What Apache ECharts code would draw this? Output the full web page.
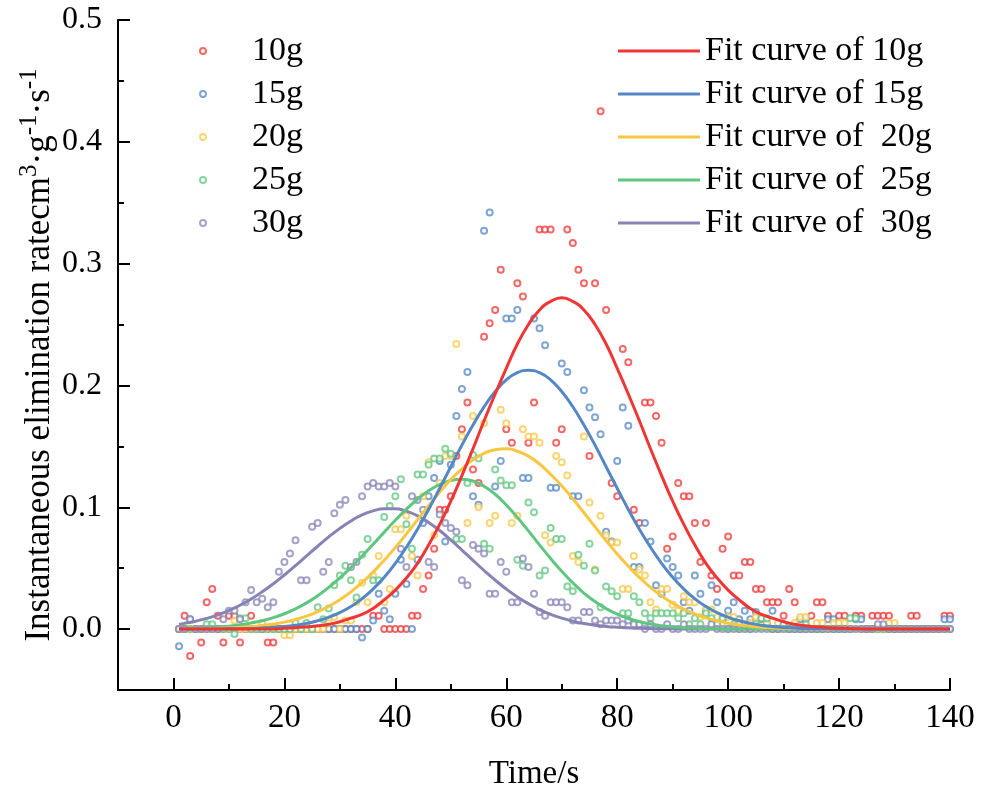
<!DOCTYPE html>
<html><head><meta charset="utf-8">
<script src="https://cdn.jsdelivr.net/npm/echarts@6/dist/echarts.min.js"></script>
<style>html,body{margin:0;padding:0;background:#fff}#c{width:993px;height:794px}</style>
</head><body><div id="c"></div>
<script>
// ---------------- data ----------------
const seconds = Array.from({length: 140}, (_, i) => i + 1);
const fitSeconds = [1].concat(Array.from({length: 70}, (_, i) => 2 * (i + 1)));

const scatterNames = ['10g', '15g', '20g', '25g', '30g'];
const fitNames = ['Fit curve of 10g', 'Fit curve of 15g', 'Fit curve of  20g', 'Fit curve of  25g', 'Fit curve of  30g'];

const rate10g = [
  0, 0.011, -0.022, 0, -0.011, 0.022, 0.033, 0.011, -0.011, 0.011,
  0.011, -0.011, 0, 0.011, 0, 0, -0.011, -0.011, 0, 0,
  0, 0, 0, 0, 0, 0, 0, 0, 0, 0,
  0, 0, 0, 0, 0, 0.011, 0.011, 0, 0, 0,
  0, 0, 0.011, 0.011, 0.033, 0.044, 0.066, 0.098, 0.098, 0.109,
  0.142, 0.164, 0.186, 0.131, 0.120, 0.240, 0.251, 0.262, 0.295, 0.164,
  0.153, 0.284, 0.273, 0.153, 0.186, 0.328, 0.328, 0.328, 0.153, 0.164,
  0.328, 0.317, 0.295, 0.284, 0.142, 0.284, 0.425, 0.262, 0.120, 0.109,
  0.230, 0.219, 0.098, 0.087, 0.186, 0.186, 0.175, 0.153, 0.066, 0.076,
  0.120, 0.109, 0.109, 0.087, 0.055, 0.087, 0.044, 0.033, 0.066, 0.076,
  0.044, 0.044, 0.055, 0.055, 0.033, 0.033, 0.022, 0.022, 0.022, 0.011,
  0.033, 0.022, 0, 0, 0.011, 0.022, 0.022, 0.011, 0, 0.011,
  0.011, 0, 0.011, 0.011, 0, 0.011, 0.011, 0.011, 0.011, 0,
  0, 0, 0.011, 0.011, 0, 0, 0, 0, 0.011, 0.011
];
const rate15g = [
  -0.014, 0, 0.008, 0, 0, 0, 0, 0, 0, 0,
  0, 0, 0, 0, 0, 0, 0, 0, 0, 0,
  0, 0, 0, 0, 0, 0, 0, 0, 0, 0,
  0, 0, 0, -0.007, 0, 0.007, 0.029, 0.015, 0.008, 0.029,
  0.057, 0.037, 0, 0.057, 0.087, 0.109, 0.124, 0.138, 0.072, 0.135,
  0.175, 0.197, 0.211, 0.109, 0.102, 0.327, 0.342, 0.117, 0.138, 0.255,
  0.255, 0.262, 0.124, 0.124, 0.255, 0.247, 0.233, 0.116, 0.116, 0.218,
  0.211, 0.109, 0.109, 0.196, 0.182, 0.174, 0.160, 0.080, 0.072, 0.138,
  0.182, 0.167, 0.051, 0.051, 0.087, 0.072, 0.036, 0.029, 0.058, 0.051,
  0.044, 0.022, 0.015, 0.044, 0.029, 0.015, 0.036, 0.022, 0.008, 0.015,
  0.022, 0.008, 0.015, 0.008, 0.014, 0.008, 0.004, 0.015, 0, 0.004,
  0, 0, 0.008, 0.008, 0, 0, 0, 0.008, 0.008, 0,
  0, 0, 0.008, 0.008, 0, 0, 0, 0, 0, 0,
  0, 0, 0, 0, 0, 0, 0, 0, 0.008, 0.008
];
const rate20g = [
  0, 0, 0, 0, 0, 0, 0, 0, 0, 0,
  0.007, 0, 0, 0, 0, 0.005, 0, 0, 0, -0.005,
  -0.005, 0, 0, 0, 0, 0, 0, 0.005, 0.010, 0,
  0.007, 0.007, 0.022, 0.038, 0.022, 0.044, 0.060, 0.022, 0.033, 0.082,
  0.082, 0.093, 0.060, 0.044, 0.109, 0.137, 0.077, 0.120, 0.142, 0.142,
  0.234, 0.158, 0.087, 0.175, 0.100, 0.169, 0.087, 0.093, 0.180, 0.169,
  0.087, 0.093, 0.164, 0.158, 0.158, 0.153, 0.077, 0.071, 0.142, 0.137,
  0.126, 0.060, 0.055, 0.158, 0.104, 0.049, 0.093, 0.077, 0.071, 0.071,
  0.033, 0.033, 0.060, 0.049, 0.044, 0.022, 0.016, 0.033, 0.033, 0.020,
  0.015, 0.027, 0.022, 0.022, 0.010, 0.016, 0.016, 0.010, 0.005, 0.010,
  0.010, 0.005, 0, 0.005, 0.010, 0.010, 0.005, 0, 0.005, 0,
  0, 0.005, 0.010, 0.010, 0, 0.005, 0.005, 0, 0.005, 0.005,
  0.005, 0, 0, 0, 0, 0, 0, 0, 0.005, 0.005,
  0, 0, 0, 0, 0, 0, 0, 0, 0, 0
];
const rate25g = [
  0, 0, 0, 0, 0, 0.004, 0.004, 0, 0, 0,
  -0.004, 0.009, 0.009, 0, 0, 0, 0, 0, 0, 0,
  0, 0.005, 0, 0.005, 0, 0.018, 0.008, 0.017, 0.036, 0.044,
  0.052, 0.040, 0.026, 0.061, 0.074, 0.040, 0.040, 0.092, 0.101, 0.109,
  0.123, 0.086, 0.066, 0.127, 0.127, 0.135, 0.140, 0.140, 0.148, 0.144,
  0.074, 0.074, 0.120, 0.143, 0.140, 0.070, 0.066, 0.131, 0.122, 0.118,
  0.118, 0.057, 0.052, 0.104, 0.096, 0.044, 0.048, 0.083, 0.074, 0.074,
  0.035, 0.031, 0.061, 0.052, 0.070, 0.048, 0.018, 0.035, 0.031, 0.027,
  0.013, 0.013, 0.027, 0.022, 0.013, 0.009, 0.013, 0.013, 0.013, 0.013,
  0.009, 0.013, 0.004, 0.009, 0.004, 0.013, 0.009, 0.004, 0.009, 0,
  0.004, 0, 0.004, 0, 0.004, 0.009, 0.009, 0, 0, 0.004,
  0, 0, 0, 0.004, 0, 0, 0, 0, 0, 0,
  0, 0.009, 0.009, 0, 0, 0, 0, 0, 0, 0,
  0, 0, 0, 0, 0, 0, 0, 0, 0, 0
];
const rate30g = [
  0, 0, 0.008, 0, 0, 0, 0, 0, 0.008, 0.015,
  0.015, 0.008, 0.022, 0.032, 0.022, 0.025, 0.018, 0.022, 0.047, 0.055,
  0.062, 0.073, 0.040, 0.040, 0.084, 0.087, 0.047, 0.055, 0.095, 0.102,
  0.106, 0.051, 0.055, 0.109, 0.117, 0.120, 0.117, 0.117, 0.120, 0.117,
  0.066, 0.051, 0.109, 0.106, 0.098, 0.055, 0.051, 0.094, 0.087, 0.083,
  0.080, 0.040, 0.036, 0.069, 0.066, 0.062, 0.029, 0.029, 0.055, 0.047,
  0.022, 0.022, 0.058, 0.051, 0.029, 0.014, 0.011, 0.022, 0.022, 0.022,
  0.018, 0.007, 0.007, 0.014, 0.014, 0.007, 0.004, 0.007, 0.007, 0.007,
  0.004, 0.007, 0.004, 0.004, 0, 0.004, 0, 0, 0.004, 0,
  0, 0.004, 0, 0, 0, 0, 0.004, 0, 0, 0,
  0, 0, 0, 0, 0, 0, 0, 0, 0, 0,
  0, 0, 0, 0, 0, 0, 0, 0, 0, 0,
  0, 0, 0, 0, 0, 0, 0.004, 0.004, 0, 0,
  0, 0, 0, 0, 0, 0, 0, 0, 0, 0
];

// fitted curves, read at t = 1, 2, 4, ..., 140
const fit10g = [
  0, 0, 0, 0, 0, 0, 0, 0, 0, 0,
  0.0007, 0.0011, 0.0018, 0.0027, 0.004, 0.006, 0.009, 0.012, 0.017, 0.024,
  0.032, 0.042, 0.054, 0.069, 0.086, 0.105, 0.126, 0.148, 0.171, 0.193,
  0.214, 0.234, 0.250, 0.262, 0.269, 0.272, 0.269, 0.262, 0.250, 0.234,
  0.214, 0.193, 0.171, 0.148, 0.126, 0.105, 0.086, 0.069, 0.054, 0.042,
  0.032, 0.024, 0.017, 0.012, 0.009, 0.006, 0.004, 0.0027, 0.0018, 0.0011,
  0.0007, 0.0004, 0.0002, 0.0001, 0, 0, 0, 0, 0, 0, 0
];
const fit15g = [
  0, 0, 0, 0, 0.0001, 0.0002, 0.0003, 0.0005, 0.0009, 0.0014,
  0.0021, 0.0032, 0.0047, 0.0068, 0.0098, 0.0136, 0.0185, 0.0249, 0.0329, 0.0425,
  0.054, 0.0672, 0.082, 0.0982, 0.1156, 0.1333, 0.151, 0.1675, 0.1825, 0.195,
  0.2046, 0.2105, 0.2125, 0.2105, 0.2046, 0.195, 0.1825, 0.1675, 0.151, 0.1333,
  0.1156, 0.0982, 0.082, 0.0672, 0.054, 0.0425, 0.0329, 0.0249, 0.0185, 0.0136,
  0.0098, 0.0068, 0.0047, 0.0032, 0.0021, 0.0014, 0.0009, 0.0005, 0.0003, 0.0002,
  0.0001, 0, 0, 0, 0, 0, 0, 0, 0, 0, 0
];
const fit20g = [
  0.0001, 0.0002, 0.0003, 0.0004, 0.0006, 0.0009, 0.0013, 0.002, 0.0029, 0.0041,
  0.0057, 0.0079, 0.0107, 0.0143, 0.0187, 0.0241, 0.0306, 0.0382, 0.0468, 0.0565,
  0.067, 0.0782, 0.0897, 0.1013, 0.1124, 0.1227, 0.1316, 0.139, 0.1443, 0.1473,
  0.148, 0.146, 0.142, 0.1355, 0.127, 0.1177, 0.107, 0.0955, 0.084, 0.0725,
  0.0617, 0.0516, 0.0424, 0.0342, 0.0273, 0.0213, 0.0164, 0.0124, 0.0092, 0.0068,
  0.0049, 0.0034, 0.0024, 0.0016, 0.0011, 0.0007, 0.0005, 0.0003, 0.0002, 0.0001,
  0, 0, 0, 0, 0, 0, 0, 0, 0, 0, 0
];
const fit25g = [
  0.0003, 0.0005, 0.0007, 0.0011, 0.0017, 0.0024, 0.0035, 0.005, 0.0069, 0.0094,
  0.0126, 0.0166, 0.0215, 0.0274, 0.0342, 0.042, 0.0506, 0.0599, 0.0696, 0.0796,
  0.0893, 0.0985, 0.1066, 0.1135, 0.1187, 0.122, 0.123, 0.1216, 0.1173, 0.1107,
  0.1019, 0.0917, 0.0806, 0.0691, 0.0579, 0.0474, 0.0379, 0.0296, 0.0226, 0.0168,
  0.0123, 0.0087, 0.0061, 0.0041, 0.0027, 0.0018, 0.0011, 0.0007, 0.0004, 0.0002,
  0.0001, 0, 0, 0, 0, 0, 0, 0, 0, 0,
  0, 0, 0, 0, 0, 0, 0, 0, 0, 0, 0
];
const fit30g = [
  0.0040, 0.0047, 0.0065, 0.0088, 0.0117, 0.0153, 0.0196, 0.0247, 0.0306, 0.0372,
  0.0444, 0.0521, 0.0601, 0.068, 0.0757, 0.0827, 0.0888, 0.0937, 0.097, 0.0988,
  0.0988, 0.0968, 0.093, 0.0876, 0.0809, 0.0732, 0.0649, 0.0564, 0.0481, 0.0402,
  0.0329, 0.0264, 0.0208, 0.016, 0.0121, 0.009, 0.0065, 0.0046, 0.0032, 0.0022,
  0.0015, 0.001, 0.0006, 0.0004, 0.0003, 0.0002, 0.0001, 0, 0, 0,
  0, 0, 0, 0, 0, 0, 0, 0, 0, 0,
  0, 0, 0, 0, 0, 0, 0, 0, 0, 0, 0
];

const xTickValues = [0, 20, 40, 60, 80, 100, 120, 140];
const xMinorValues = [10, 30, 50, 70, 90, 110, 130];
const yTickValues = [0, 0.1, 0.2, 0.3, 0.4, 0.5];
const yMinorValues = [0.05, 0.15, 0.25, 0.35, 0.45];

// ---------------- style ----------------
const colors = ['#f03535', '#5487c5', '#f7c744', '#5fc67f', '#8784b5'];
const FONT = '"Liberation Serif", "Times New Roman", serif';
const rates = [rate10g, rate15g, rate20g, rate25g, rate30g];
const fits = [fit10g, fit15g, fit20g, fit25g, fit30g];

const series = [];
scatterNames.forEach((name, k) => {
  series.push({
    name, type: 'scatter', xAxisIndex: 0, yAxisIndex: 0,
    symbol: 'emptyCircle', symbolSize: 6,
    itemStyle: {color: colors[k], borderColor: colors[k], borderWidth: 1, opacity: 0.75},
    data: seconds.map((t, i) => [t, rates[k][i]]),
    z: 2
  });
});
[4, 3, 2, 1, 0].forEach(k => {
  series.push({
    name: fitNames[k], type: 'line', xAxisIndex: 0, yAxisIndex: 0,
    symbol: 'none', smooth: true,
    lineStyle: {color: colors[k], width: 3},
    itemStyle: {color: colors[k]},
    data: fitSeconds.map((t, i) => [t, fits[k][i]]),
    z: 3 + (4 - k)
  });
});

const axisLineStyle = {color: '#000', width: 2};
const chart = echarts.init(document.getElementById('c'), null, {renderer: 'canvas'});
chart.setOption({
  animation: false,
  backgroundColor: '#fff',
  grid: {left: 118, right: 43, top: 20, bottom: 104, containLabel: false, outerBoundsMode: 'none'},
  legend: [
    {
      data: scatterNames, orient: 'vertical', left: 194, top: 29,
      itemWidth: 88, itemHeight: 6, itemGap: 9,
      textStyle: {fontFamily: FONT, fontSize: 34, color: '#000', lineHeight: 34}
    },
    {
      data: fitNames, orient: 'vertical', left: 613, top: 29, icon: 'rect',
      itemWidth: 82, itemHeight: 3, itemGap: 9,
      textStyle: {fontFamily: FONT, fontSize: 34, color: '#000', lineHeight: 34}
    }
  ],
  xAxis: [
    {
      type: 'value', min: -10, max: 140, position: 'bottom',
      name: 'Time/s', nameLocation: 'middle', nameGap: 68, nameMoveOverlap: false,
      nameTextStyle: {fontFamily: FONT, fontSize: 33, color: '#000'},
      axisLine: {show: true, onZero: false, lineStyle: axisLineStyle},
      axisTick: {show: true, inside: true, length: 12, lineStyle: axisLineStyle, customValues: xTickValues},
      axisLabel: {show: true, customValues: xTickValues, fontFamily: FONT, fontSize: 33, color: '#000', margin: 12},
      splitLine: {show: false}
    },
    {
      type: 'value', min: -10, max: 140, position: 'bottom',
      axisLine: {show: false, onZero: false},
      axisTick: {show: true, inside: true, length: 6, lineStyle: axisLineStyle, customValues: xMinorValues},
      axisLabel: {show: false},
      splitLine: {show: false}
    }
  ],
  yAxis: [
    {
      type: 'value', min: -0.05, max: 0.5, position: 'left',
      name: '{n|Instantaneous elimination ratecm}{s|3}{n|·g}{s|-1}{n|·s}{s|-1}',
      nameLocation: 'middle', nameGap: 61, nameRotate: 90, nameMoveOverlap: false,
      nameTextStyle: {
        fontFamily: FONT, fontSize: 35, color: '#000',
        rich: {
          n: {fontFamily: FONT, fontSize: 35, color: '#000', lineHeight: 40, verticalAlign: 'bottom'},
          s: {fontFamily: FONT, fontSize: 25, color: '#000', lineHeight: 24, verticalAlign: 'top'}
        }
      },
      axisLine: {show: true, onZero: false, lineStyle: axisLineStyle},
      axisTick: {show: true, inside: true, length: 12, lineStyle: axisLineStyle, customValues: yTickValues},
      axisLabel: {show: true, customValues: yTickValues, fontFamily: FONT, fontSize: 32, color: '#000', margin: 16,
        formatter: v => v.toFixed(1)},
      splitLine: {show: false}
    },
    {
      type: 'value', min: -0.05, max: 0.5, position: 'left',
      axisLine: {show: false, onZero: false},
      axisTick: {show: true, inside: true, length: 6, lineStyle: axisLineStyle, customValues: yMinorValues},
      axisLabel: {show: false},
      splitLine: {show: false}
    }
  ],
  series
});
</script>
</body></html>
